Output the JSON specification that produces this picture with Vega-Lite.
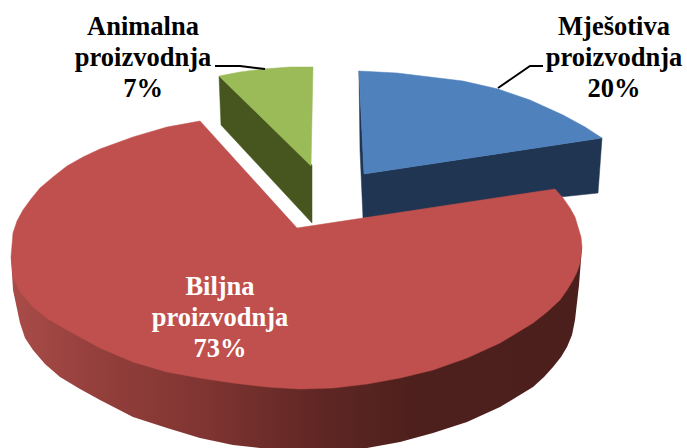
{"$schema":"https://vega.github.io/schema/vega-lite/v6.json","width":687,"height":448,"padding":0,"autosize":"none","background":"white","config":{"view":{"stroke":null}},"projection":{"type":"identity","scale":1,"translate":[0,0]},"datasets":{"faces":[{"type":"Feature","properties":{"part":"blueWall"},"geometry":{"type":"Polygon","coordinates":[[[359,71],[364,174],[602,138],[598,193],[363,218],[360,150],[359,71]]]}},{"type":"Feature","properties":{"part":"blueTop"},"geometry":{"type":"Polygon","coordinates":[[[364,174],[359,71],[397,73],[430,77],[463,81],[498,89],[530,100],[563,115],[585,127],[602,138],[364,174]]]}},{"type":"Feature","properties":{"part":"greenWall"},"geometry":{"type":"Polygon","coordinates":[[[219,76],[221,125],[312,223],[312,165],[219,76]]]}},{"type":"Feature","properties":{"part":"greenTop"},"geometry":{"type":"Polygon","coordinates":[[[219,76],[240,72],[263,69],[290,67],[313,67],[311,166],[219,76]]]}},{"type":"Feature","properties":{"part":"redWall"},"geometry":{"type":"Polygon","coordinates":[[[11,257],[13,290],[20,323],[25,338],[33,350],[45,364],[60,377],[80,389],[100,400],[133,417],[167,428],[200,438],[233,445],[260,448],[367,448],[400,442],[433,433],[467,422],[500,407],[533,387],[544,377],[553,367],[561,357],[567,347],[572,335],[575,320],[579,285],[582,247],[300,300],[11,257]]]}},{"type":"Feature","properties":{"part":"redTop"},"geometry":{"type":"Polygon","coordinates":[[[297,228],[200,121],[167,127],[133,137],[100,149],[83,157],[67,166],[53,177],[40,188],[31,199],[23,210],[17,221],[13,233],[12,245],[11,257],[13,277],[20,292],[33,307],[48,319],[67,330],[100,348],[133,362],[167,372],[200,378],[233,383],[267,387],[300,389],[333,388],[367,384],[400,378],[433,370],[467,358],[500,343],[533,323],[547,312],[560,300],[567,290],[573,280],[577,272],[580,263],[582,247],[581,237],[578,227],[575,217],[570,208],[563,198],[555,189],[297,228]]]}},{"type":"Feature","properties":{"part":"leader"},"geometry":{"type":"LineString","coordinates":[[215,66],[240,66],[265,69]]}},{"type":"Feature","properties":{"part":"leader"},"geometry":{"type":"LineString","coordinates":[[543,66],[530,66],[498,88]]}}],"labels":[{"slice":"Animalna\nproizvodnja\n7%","share":7,"color":"dark","lon":143,"lat":27},{"slice":"Mješotiva\nproizvodnja\n20%","share":20,"color":"dark","lon":614,"lat":27},{"slice":"Biljna\nproizvodnja\n73%","share":73,"color":"light","lon":220,"lat":287}]},"data":{"name":"faces"},"layer":[{"transform":[{"filter":"datum.properties.part=='blueWall'"}],"mark":{"type":"geoshape","fill":"#1f3552","stroke":"#1f3552","strokeWidth":0.5}},{"transform":[{"filter":"datum.properties.part=='blueTop'"}],"mark":{"type":"geoshape","fill":"#4f81bd","stroke":"#4f81bd","strokeWidth":0.5}},{"transform":[{"filter":"datum.properties.part=='greenWall'"}],"mark":{"type":"geoshape","fill":"#47561f","stroke":"#47561f","strokeWidth":0.5}},{"transform":[{"filter":"datum.properties.part=='greenTop'"}],"mark":{"type":"geoshape","fill":"#9bbb59","stroke":"#9bbb59","strokeWidth":0.5}},{"transform":[{"filter":"datum.properties.part=='redWall'"}],"mark":{"type":"geoshape","strokeWidth":0,"fill":{"gradient":"linear","x1":0,"x2":1,"y1":0,"y2":0,"stops":[{"offset":0,"color":"#a94c49"},{"offset":0.15,"color":"#943f3c"},{"offset":0.35,"color":"#7e3431"},{"offset":0.55,"color":"#5e2623"},{"offset":0.7,"color":"#4e201d"},{"offset":1,"color":"#4b1f1c"}]}}},{"transform":[{"filter":"datum.properties.part=='redTop'"}],"mark":{"type":"geoshape","fill":"#c0504d","stroke":"#c0504d","strokeWidth":0.5}},{"transform":[{"filter":"datum.properties.part=='leader'"}],"mark":{"type":"geoshape","filled":false,"stroke":"black","strokeWidth":2}},{"data":{"name":"labels"},"mark":{"type":"text","font":"Liberation Serif","fontWeight":"bold","fontSize":26.5,"lineHeight":31,"lineBreak":"\n","align":"center","baseline":"middle"},"encoding":{"longitude":{"field":"lon","type":"quantitative"},"latitude":{"field":"lat","type":"quantitative"},"text":{"field":"slice"},"color":{"field":"color","type":"nominal","scale":{"domain":["dark","light"],"range":["black","white"]},"legend":null}}}]}
